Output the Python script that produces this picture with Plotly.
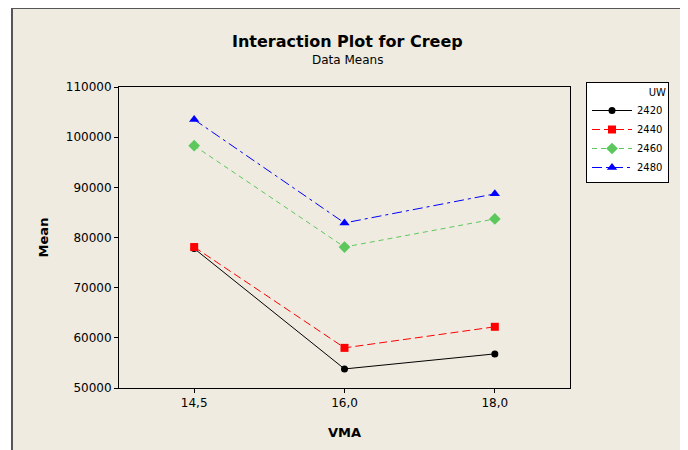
import plotly.graph_objects as go

vma = ["14,5", "16,0", "18,0"]
uw_levels = ["2420", "2440", "2460", "2480"]
mean_2420 = [77800, 53800, 56800]
mean_2440 = [78100, 58000, 62200]
mean_2460 = [98300, 78100, 83700]
mean_2480 = [103500, 82900, 88700]

series = [mean_2420, mean_2440, mean_2460, mean_2480]
colors = ["#000000", "#FF0000", "#5CC85C", "#0000FF"]
dashes = ["solid", "8px,4px", "5px,4px", "10px,4px,3px,4px"]
symbols = ["circle", "square", "diamond", "triangle-up"]
sizes = [7, 8, 9, 9]

FONT = "DejaVu Sans"

fig = go.Figure()
for name, vals, c, d, s, sz in zip(uw_levels, series, colors, dashes, symbols, sizes):
    fig.add_trace(go.Scatter(
        x=vma, y=vals, name=name, mode="lines+markers",
        line=dict(color=c, width=1, dash=d),
        marker=dict(color=c, symbol=s, size=sz),
    ))

OFF = 8  # page body offset
W, H = 688 - OFF, 450 - OFF
L, T = 119 - OFF, 87 - OFF
R = W - (570 - OFF)
B = H - (388 - OFF)
pw, ph = W - L - R, H - T - B

def px(x):
    return (x - OFF - L) / pw

def py(y):
    return (H - B - (y - OFF)) / ph

fig.add_shape(type="rect", xref="paper", yref="paper",
              x0=px(12), x1=px(683), y0=py(470), y1=py(8),
              line=dict(color="#555555", width=2), fillcolor="#EFEBE1",
              layer="below")

fig.update_layout(
    width=W, height=H,
    margin=dict(l=L, r=R, t=T, b=B),
    paper_bgcolor="white",
    plot_bgcolor="white",
    font=dict(family=FONT, size=11, color="#000000"),
    showlegend=True,
    legend=dict(
        title=dict(text="UW", font=dict(size=10), side="top right"),
        x=px(586), y=py(82), xanchor="left", yanchor="top",
        bgcolor="white", bordercolor="#000000", borderwidth=1,
        font=dict(size=10), tracegroupgap=0, itemwidth=40,
    ),
    annotations=[
        dict(text="<b>Interaction Plot for Creep</b>", xref="paper", yref="paper",
             x=px(347), y=py(41), xanchor="center", yanchor="middle",
             showarrow=False, font=dict(size=16, family=FONT)),
        dict(text="Data Means", xref="paper", yref="paper",
             x=px(347), y=py(60), xanchor="center", yanchor="middle",
             showarrow=False, font=dict(size=12, family=FONT)),
    ],
)

fig.update_xaxes(
    type="category", range=[-0.5, 2.5],
    title=dict(text="<b>VMA</b>", font=dict(size=13), standoff=18),
    showline=True, linecolor="#000000", linewidth=1, mirror=True,
    ticks="outside", ticklen=4, tickcolor="#000000",
    showgrid=False, tickfont=dict(size=12),
)
fig.update_yaxes(
    range=[50000, 110000], tickvals=[50000, 60000, 70000, 80000, 90000, 100000, 110000],
    ticktext=["50000", "60000", "70000", "80000", "90000", "100000", "110000"],
    title=dict(text="<b>Mean</b>", font=dict(size=13), standoff=14),
    showline=True, linecolor="#000000", linewidth=1, mirror=True,
    ticks="outside", ticklen=4, tickcolor="#000000",
    showgrid=False, zeroline=False, tickfont=dict(size=12),
)

fig.write_html("out.html")
